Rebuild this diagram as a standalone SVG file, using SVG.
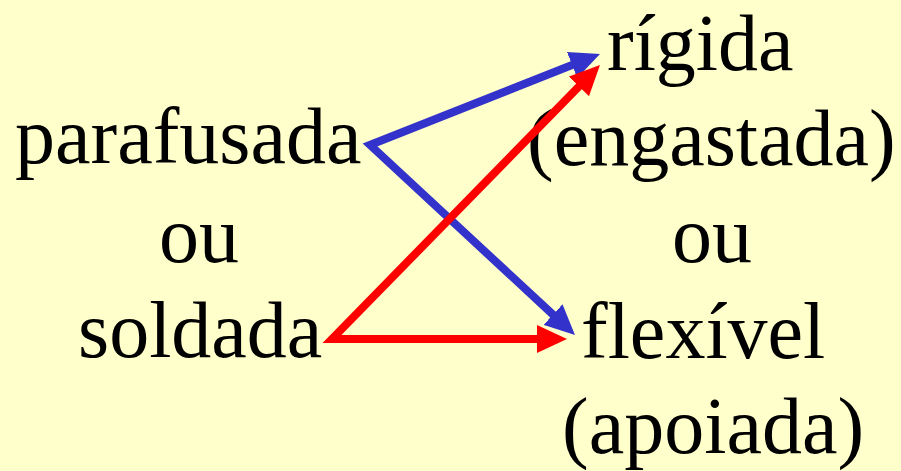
<svg xmlns="http://www.w3.org/2000/svg" width="901" height="471" viewBox="0 0 901 471">
<style>
text{font-family:"Liberation Serif","Times New Roman",serif;font-size:80px;fill:#000}
.blue{fill:none;stroke:#3333CC;stroke-width:8;stroke-linejoin:miter}
.red{fill:none;stroke:#FF0000;stroke-width:8;stroke-linejoin:miter}
</style>
<defs>
<marker id="hb" viewBox="0 0 30 28" refX="2" refY="14" markerWidth="30" markerHeight="28" markerUnits="userSpaceOnUse" orient="auto-start-reverse"><path d="M0,0 L30,14 L0,28 Z" fill="#3333CC"/></marker>
<marker id="hr" viewBox="0 0 30 28" refX="2" refY="14" markerWidth="30" markerHeight="28" markerUnits="userSpaceOnUse" orient="auto-start-reverse"><path d="M0,0 L30,14 L0,28 Z" fill="#FF0000"/></marker>
</defs>
<rect width="901" height="471" fill="#FFFFCC"/>
<g id="left-col">
<g id="parafusada"><text x="15" y="163">parafusada</text></g>
<g id="ou-left"><text x="159" y="262">ou</text></g>
<g id="soldada"><text x="78" y="357">soldada</text></g>
</g>
<g id="right-col">
<g id="rigida"><text x="607" y="70">rígida</text></g>
<g id="engastada"><text x="527" y="165">(engastada)</text></g>
<g id="ou-right"><text x="672" y="262">ou</text></g>
<g id="flexivel"><text x="581" y="358">flexível</text></g>
<g id="apoiada"><text x="562" y="453">(apoiada)</text></g>
</g>
<g id="connectors">
<path class="blue" d="M573.96,64.3 L370,145 L554.46,315.97" marker-start="url(#hb)" marker-end="url(#hb)"/>
<path class="red" d="M580.39,84.98 L332,339 L539,339" marker-start="url(#hr)" marker-end="url(#hr)"/>
</g>
</svg>
